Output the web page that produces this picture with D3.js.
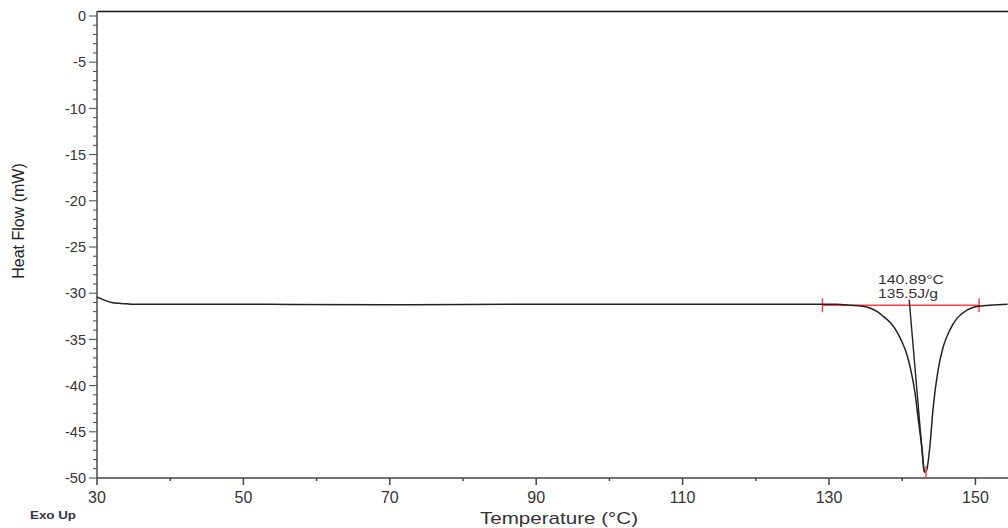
<!DOCTYPE html>
<html>
<head>
<meta charset="utf-8">
<script src="https://cdn.jsdelivr.net/npm/d3@7"></script>
<style>
  body { margin: 0; background: #fff; }
  svg { display: block; font-family: "Liberation Sans", Arial, sans-serif; }
</style>
</head>
<body>
<div id="chart"></div>
<script>
// DSC trace
const temps = [30, 31, 32, 33, 34, 35, 50, 70, 90, 110, 125, 131, 133, 134.5, 135.6, 136.6, 137.4,
  138.4, 139.3, 140.1, 140.7, 141.2, 141.75, 142.2, 142.7, 143.05, 143.35, 143.8, 144.2, 144.9,
  145.6, 146.5, 147.5, 148.9, 150.2, 154.4];
const heatFlow = [-30.4, -30.75, -31.0, -31.1, -31.15, -31.2, -31.2, -31.25, -31.2, -31.2, -31.2,
  -31.2, -31.3, -31.4, -31.6, -32.0, -32.5, -33.2, -34.2, -35.5, -36.8, -38.4, -40.8, -43.7,
  -46.8, -49.4, -49.1, -46.4, -42.6, -38.3, -35.8, -34.0, -32.7, -31.8, -31.45, -31.2];

const xTicks = [30, 50, 70, 90, 110, 130, 150];
const xMinorTicks = [40, 60, 80, 100, 120, 140];
const yTicks = [0, -5, -10, -15, -20, -25, -30, -35, -40, -45, -50];

// peak analysis
const limits = [129.1, 150.5];
const baselineValue = -31.3;
const onsetLine = [[140.95, -30.7], [142.95, -49.3]];
const peakTemp = 143.25;
const peakLabels = ["140.89°C", "135.5J/g"];

const width = 1008, height = 528;
const svg = d3.select("#chart").append("svg")
  .attr("width", width)
  .attr("height", height);

const x = d3.scaleLinear().domain([30, 154.45]).range([97, 1008]);
const y = d3.scaleLinear().domain([-50, 0]).range([478, 16]);

// top frame line
svg.append("line")
  .attr("x1", x(30)).attr("x2", width)
  .attr("y1", 11.5).attr("y2", 11.5)
  .attr("stroke", "#111").attr("stroke-width", 1.6);

// y axis
const yAxis = svg.append("g").attr("transform", `translate(${x(30)},0)`);
yAxis.append("line")
  .attr("y1", 11).attr("y2", y(-50))
  .attr("stroke", "#777").attr("stroke-width", 2);
yAxis.selectAll(".minor")
  .data(d3.range(-50, 1, 1).filter(v => v % 5 !== 0))
  .join("line")
  .attr("x1", -4).attr("x2", 0)
  .attr("y1", d => y(d)).attr("y2", d => y(d))
  .attr("stroke", "#444");
const yMajor = yAxis.selectAll(".major").data(yTicks).join("g")
  .attr("transform", d => `translate(0,${y(d)})`);
yMajor.append("line").attr("x1", -8).attr("x2", 0).attr("stroke", "#444");
yMajor.append("text")
  .attr("x", -11).attr("dy", "0.36em")
  .attr("text-anchor", "end")
  .style("font-size", "14.5px")
  .attr("fill", "#333")
  .text(d => d);

// x axis
const xAxis = svg.append("g").attr("transform", `translate(0,${y(-50)})`);
xAxis.append("line")
  .attr("x1", x(30)).attr("x2", width)
  .attr("stroke", "#444").attr("stroke-width", 1.5);
xAxis.selectAll(".minor").data(xMinorTicks).join("line")
  .attr("x1", d => x(d)).attr("x2", d => x(d))
  .attr("y1", 0).attr("y2", 3)
  .attr("stroke", "#444").attr("stroke-width", 1.5);
const xMajor = xAxis.selectAll(".major").data(xTicks).join("g")
  .attr("transform", d => `translate(${x(d)},0)`);
xMajor.append("line").attr("y1", 0).attr("y2", 7).attr("stroke", "#444").attr("stroke-width", 1.5);
xMajor.append("text")
  .attr("y", 19)
  .attr("dy", "0.36em")
  .attr("text-anchor", "middle")
  .style("font-size", "16px")
  .attr("fill", "#333")
  .text(d => d);

// axis titles
svg.append("text")
  .attr("transform", `translate(24,${(y(0) + y(-50)) / 2 - 26}) rotate(-90)`)
  .attr("text-anchor", "middle")
  .style("font-size", "16px")
  .attr("fill", "#222")
  .text("Heat Flow (mW)");

svg.append("text")
  .attr("x", 480).attr("y", 524)
  .attr("textLength", 158)
  .attr("lengthAdjust", "spacingAndGlyphs")
  .style("font-size", "17px")
  .attr("fill", "#333")
  .text("Temperature (°C)");

svg.append("text")
  .attr("x", 30).attr("y", 519)
  .attr("textLength", 46)
  .attr("lengthAdjust", "spacingAndGlyphs")
  .style("font-size", "11.5px")
  .style("font-weight", "bold")
  .attr("fill", "#334")
  .text("Exo Up");

// red integration baseline
const red = "#f0494b";
svg.append("line")
  .attr("x1", x(limits[0])).attr("x2", x(limits[1]))
  .attr("y1", y(baselineValue)).attr("y2", y(baselineValue))
  .attr("stroke", red).attr("stroke-width", 1.5);
svg.selectAll(".limit").data(limits).join("line")
  .attr("x1", d => x(d)).attr("x2", d => x(d))
  .attr("y1", y(baselineValue) - 7).attr("y2", y(baselineValue) + 7)
  .attr("stroke", red).attr("stroke-width", 1.5);

// the trace
const line = d3.line()
  .x((d, i) => x(temps[i]))
  .y(d => y(d))
  .curve(d3.curveMonotoneX);
svg.append("path")
  .datum(heatFlow)
  .attr("d", line)
  .attr("fill", "none")
  .attr("stroke", "#222")
  .attr("stroke-width", 1.5);

// onset tangent
svg.append("line")
  .attr("x1", x(onsetLine[0][0])).attr("y1", y(onsetLine[0][1]))
  .attr("x2", x(onsetLine[1][0])).attr("y2", y(onsetLine[1][1]))
  .attr("stroke", "#222").attr("stroke-width", 1.4);

// peak marker
svg.append("line")
  .attr("x1", x(peakTemp)).attr("x2", x(peakTemp))
  .attr("y1", y(-48.7)).attr("y2", y(-50))
  .attr("stroke", red).attr("stroke-width", 1.5);

svg.selectAll(".peakLabel").data(peakLabels).join("text")
  .attr("x", 878)
  .attr("y", (d, i) => 284 + i * 14)
  .attr("textLength", (d, i) => i === 0 ? 66 : 60)
  .attr("lengthAdjust", "spacingAndGlyphs")
  .style("font-size", "13px")
  .attr("fill", "#333")
  .text(d => d);
</script>
</body>
</html>
